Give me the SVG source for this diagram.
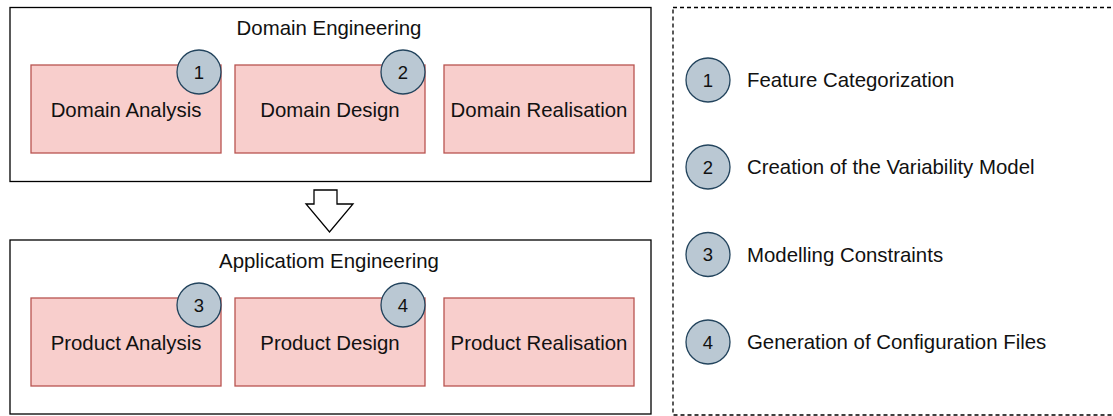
<svg xmlns="http://www.w3.org/2000/svg" width="1113" height="416" viewBox="0 0 1113 416">
<defs>
<style>
.outer{fill:#fff;stroke:#000;stroke-width:1.3}
.step{fill:#f8cecc;stroke:#b85450;stroke-width:1.3}
.badge{fill:#bac8d3;stroke:#23445d;stroke-width:1.3}
.t{font-family:"Liberation Sans",Arial,sans-serif;font-size:20.4px;fill:#111;text-anchor:middle}
.n{font-family:"Liberation Sans",Arial,sans-serif;font-size:18.5px;fill:#111;text-anchor:middle}
.l{font-family:"Liberation Sans",Arial,sans-serif;font-size:20.4px;fill:#111}
</style>
</defs>
<rect width="1113" height="416" fill="#fff"/>
<g id="domain-engineering">
<rect class="outer" x="10" y="7.5" width="641" height="174"/>
<text class="t" x="329" y="35">Domain Engineering</text>
</g>
<g id="domain-analysis">
<rect class="step" x="31" y="65" width="190" height="88"/>
<text class="t" x="126" y="116.5">Domain Analysis</text>
</g>
<g id="domain-design">
<rect class="step" x="235" y="65" width="190" height="88"/>
<text class="t" x="330" y="116.5">Domain Design</text>
</g>
<g id="domain-realisation">
<rect class="step" x="444" y="65" width="190" height="88"/>
<text class="t" x="539" y="116.5">Domain Realisation</text>
</g>
<g id="badge-1">
<circle class="badge" cx="199" cy="72" r="22"/>
<text class="n" x="199" y="78.5">1</text>
</g>
<g id="badge-2">
<circle class="badge" cx="403" cy="72" r="22"/>
<text class="n" x="403" y="78.5">2</text>
</g>
<g id="application-engineering">
<rect class="outer" x="10" y="240" width="641" height="174"/>
<text class="t" x="329" y="268">Applicatiom Engineering</text>
</g>
<g id="product-analysis">
<rect class="step" x="31" y="298" width="190" height="88"/>
<text class="t" x="126" y="349.5">Product Analysis</text>
</g>
<g id="product-design">
<rect class="step" x="235" y="298" width="190" height="88"/>
<text class="t" x="330" y="349.5">Product Design</text>
</g>
<g id="product-realisation">
<rect class="step" x="444" y="298" width="190" height="88"/>
<text class="t" x="539" y="349.5">Product Realisation</text>
</g>
<g id="badge-3">
<circle class="badge" cx="199" cy="305" r="22"/>
<text class="n" x="199" y="311.5">3</text>
</g>
<g id="badge-4">
<circle class="badge" cx="403" cy="305" r="22"/>
<text class="n" x="403" y="311.5">4</text>
</g>
<g id="connectors">
<path d="M314,190 L337,190 L337,204 L353,204 L329.5,232 L306,204 L314,204 Z" fill="#fff" stroke="#000" stroke-width="1.3" stroke-linejoin="miter"/>
</g>
<g id="legend">
<rect x="673" y="7.5" width="460" height="407.5" fill="none" stroke="#000" stroke-width="1.3" stroke-dasharray="4 3"/>
<g id="legend-1">
<circle class="badge" cx="708" cy="80" r="22"/>
<text class="n" x="708" y="86.5">1</text>
<text class="l" x="747" y="87">Feature Categorization</text>
</g>
<g id="legend-2">
<circle class="badge" cx="708" cy="167" r="22"/>
<text class="n" x="708" y="173.5">2</text>
<text class="l" x="747" y="174">Creation of the Variability Model</text>
</g>
<g id="legend-3">
<circle class="badge" cx="708" cy="254.5" r="22"/>
<text class="n" x="708" y="261">3</text>
<text class="l" x="747" y="261.5">Modelling Constraints</text>
</g>
<g id="legend-4">
<circle class="badge" cx="708" cy="342" r="22"/>
<text class="n" x="708" y="348.5">4</text>
<text class="l" x="747" y="349">Generation of Configuration Files</text>
</g>
</g>
</svg>
